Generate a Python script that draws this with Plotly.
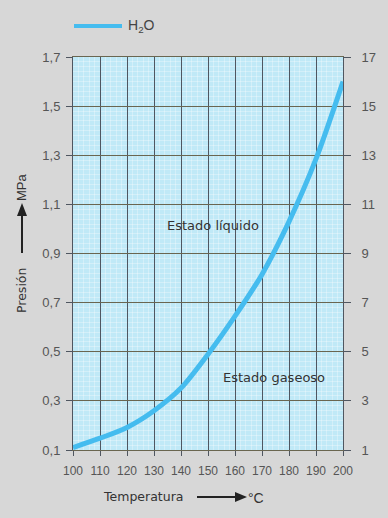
import plotly.graph_objects as go

temperature = [100, 110, 120, 130, 140, 150, 160, 170, 180, 190, 200]
pressure = [0.11, 0.148, 0.192, 0.26, 0.352, 0.49, 0.645, 0.815, 1.03, 1.285, 1.60]
y_ticks = [0.1, 0.3, 0.5, 0.7, 0.9, 1.1, 1.3, 1.5, 1.7]
y2_ticks = [1, 3, 5, 7, 9, 11, 13, 15, 17]
x_ticks = list(range(100, 201, 10))
series_name = "H<sub>2</sub>O"

W, H = 388, 518
L, R, T, B = 73, 45, 57, 68
pw, ph = W - L - R, H - T - B

def px(x):
    return (x - L) / pw

def py(y):
    return (H - B - y) / ph

grid_v = "#4f5660"
grid_h = "#6a6650"
tick_col = "#555555"
text_col = "#333333"
paper_col = "#d7d7d7"
curve_col = "#45bcef"

fig = go.Figure()
fig.add_trace(go.Scatter(
    x=temperature, y=pressure, mode="lines", name=series_name,
    line=dict(color=curve_col, width=5, shape="spline", smoothing=0.8),
    hoverinfo="skip", showlegend=False,
))
fig.add_trace(go.Scatter(
    x=temperature, y=[p * 10 for p in pressure], mode="lines", yaxis="y2",
    line=dict(width=0), opacity=0, showlegend=False, hoverinfo="skip",
))

font_ticks = dict(family="Liberation Sans, Arial", size=13, color=tick_col)
font_xticks = dict(family="Liberation Sans, Arial", size=12, color=tick_col)

fig.update_layout(
    width=W, height=H,
    margin=dict(l=L, r=R, t=T, b=B),
    paper_bgcolor=paper_col,
    plot_bgcolor="#c0e9f7",
    separators=",.",
    xaxis=dict(
        range=[100, 200], tickvals=x_ticks, ticks="outside", ticklen=5,
        tickcolor=grid_v, tickfont=font_xticks, ticklabelstandoff=5,
        showgrid=True, gridcolor=grid_v, gridwidth=1,
        showline=True, linecolor=grid_h, linewidth=1, mirror=True,
        zeroline=False,
        minor=dict(dtick=2, showgrid=True, gridcolor="rgba(255,255,255,0.3)", gridwidth=1, ticks=""),
    ),
    yaxis=dict(
        range=[0.1, 1.7], tickvals=y_ticks, tickformat=".1f", ticks="outside", ticklen=6,
        tickcolor=grid_v, tickfont=font_ticks, ticklabelstandoff=3,
        showgrid=True, gridcolor=grid_h, gridwidth=1,
        showline=True, linecolor=grid_v, linewidth=1,
        zeroline=False,
        minor=dict(dtick=0.02, showgrid=True, gridcolor="rgba(255,255,255,0.3)", gridwidth=1, ticks=""),
    ),
    yaxis2=dict(
        range=[1, 17], tickvals=y2_ticks, overlaying="y", side="right",
        ticks="outside", ticklen=7, tickcolor=grid_v, tickfont=font_ticks, ticklabelstandoff=8,
        showgrid=False, showline=True, linecolor=grid_v, linewidth=1, zeroline=False,
    ),
)

label_font = dict(family="DejaVu Sans", size=13, color=text_col)
small_font = dict(family="DejaVu Sans", size=12.5, color=text_col)
annos = [
    dict(x=px(126), y=py(26), xref="paper", yref="paper", text=series_name, showarrow=False,
         font=dict(family="Liberation Sans, Arial", size=14, color="#444444"), xanchor="left", yanchor="middle"),
    dict(x=152, y=1.014, xref="x", yref="y", text="Estado líquido", showarrow=False, font=label_font,
         xanchor="center", yanchor="middle"),
    dict(x=174.4, y=0.394, xref="x", yref="y", text="Estado gaseoso", showarrow=False, font=label_font,
         xanchor="center", yanchor="middle"),
    dict(x=px(143), y=py(496), xref="paper", yref="paper", text="Temperatura", showarrow=False, font=small_font,
         xanchor="center", yanchor="middle"),
    dict(x=px(256), y=py(498), xref="paper", yref="paper", text="°C", showarrow=False,
         font=dict(family="Liberation Sans, Arial", size=14, color=text_col), xanchor="center", yanchor="middle"),
    dict(x=px(21), y=py(291), xref="paper", yref="paper", text="Presión", textangle=-90, showarrow=False,
         font=small_font, xanchor="center", yanchor="middle"),
    dict(x=px(22), y=py(187), xref="paper", yref="paper", text="MPa", textangle=-90, showarrow=False,
         font=dict(family="Liberation Sans, Arial", size=13, color=text_col), xanchor="center", yanchor="middle"),
]

arrow_col = "#222222"
shapes = [
    dict(type="line", xref="paper", yref="paper", x0=px(74), x1=px(122), y0=py(26), y1=py(26),
         line=dict(color=curve_col, width=4)),
    dict(type="line", xref="paper", yref="paper", x0=px(197), x1=px(238), y0=py(497), y1=py(497),
         line=dict(color=arrow_col, width=2)),
    dict(type="path", xref="paper", yref="paper",
         path=f"M {px(247)} {py(497)} L {px(235)} {py(492)} L {px(235)} {py(502)} Z",
         fillcolor=arrow_col, line=dict(width=0)),
    dict(type="line", xref="paper", yref="paper", x0=px(22), x1=px(22), y0=py(253), y1=py(214),
         line=dict(color=arrow_col, width=2)),
    dict(type="path", xref="paper", yref="paper",
         path=f"M {px(22)} {py(203)} L {px(17)} {py(216)} L {px(27)} {py(216)} Z",
         fillcolor=arrow_col, line=dict(width=0)),
]
fig.update_layout(annotations=annos, shapes=shapes)

fig.write_html(
    "out.html",
    config={"displayModeBar": False},
    post_script=f"document.body.style.margin='0';document.body.style.background='{paper_col}';",
)
